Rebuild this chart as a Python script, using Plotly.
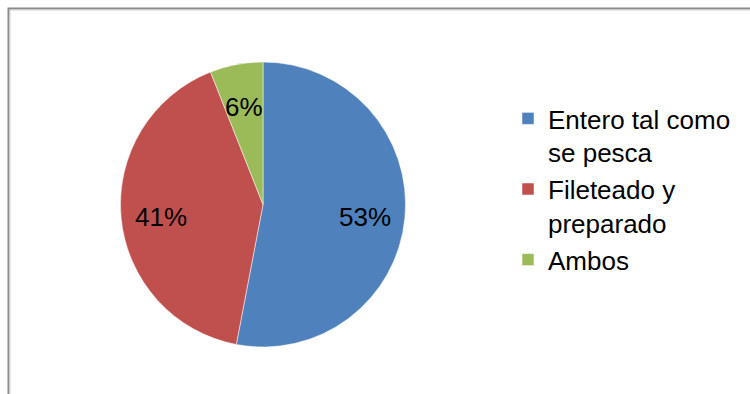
import math
import plotly.graph_objects as go

# Preferred form of the fish at purchase
categorias = ["Entero tal como<br>se pesca", "Fileteado y<br>preparado", "Ambos"]
porcentajes = [53, 41, 6]
colores = ["#4F81BD", "#C0504D", "#9BBB59"]

W, H = 750, 394
FONT = "Liberation Sans, Arial, sans-serif"

# Pie placement in pixels (centre and radius)
CX, CY, R = 263, 204.5, 142.5

fig = go.Figure(
    go.Pie(
        labels=categorias,
        values=porcentajes,
        sort=False,
        direction="clockwise",
        rotation=0,
        marker=dict(colors=colores, line=dict(color="white", width=0.5)),
        textinfo="none",
        domain=dict(x=[(CX - R) / W, (CX + R) / W],
                    y=[(H - CY - R) / H, (H - CY + R) / H]),
        hoverinfo="label+percent",
    )
)

# Percentage labels placed along each slice's bisector
total = sum(porcentajes)
acum = 0
for v in porcentajes:
    mid = (acum + v / 2) / total * 2 * math.pi
    acum += v
    rr = 0.72 * R
    px = CX + rr * math.sin(mid)
    py = CY - rr * math.cos(mid) + 3
    fig.add_annotation(
        x=px / W, y=1 - py / H, xref="paper", yref="paper",
        text=f"{round(v / total * 100)}%", showarrow=False,
        font=dict(family=FONT, size=26, color="black"),
        xanchor="center", yanchor="middle",
    )

# Chart-area frame (top and left edges visible, runs off right and bottom)
fig.add_shape(
    type="rect", xref="paper", yref="paper",
    x0=8.5 / W, x1=1.2, y0=-0.2, y1=1 - 8.5 / H,
    line=dict(color="#8a8a8a", width=2),
)
fig.add_shape(
    type="rect", xref="paper", yref="paper",
    x0=10 / W, x1=1.2, y0=-0.2, y1=1 - 10 / H,
    line=dict(color="#d0d0d0", width=1),
)

fig.update_layout(
    width=W, height=H,
    margin=dict(l=0, r=0, t=0, b=0),
    paper_bgcolor="white",
    plot_bgcolor="white",
    font=dict(family=FONT, size=26, color="black"),
    legend=dict(
        x=508 / W, y=1 - 95 / H, xanchor="left", yanchor="top",
        font=dict(family=FONT, size=26, color="black"),
        bgcolor="rgba(0,0,0,0)",
        valign="top",
        itemclick=False,
    ),
    showlegend=True,
)

fig.write_html("out.html")
